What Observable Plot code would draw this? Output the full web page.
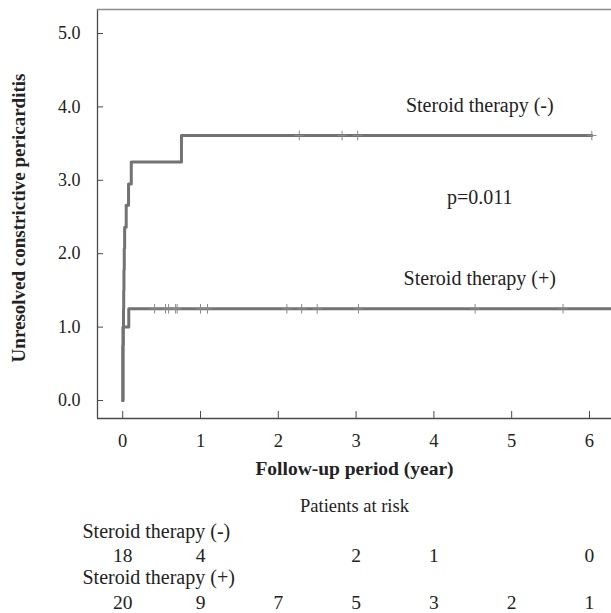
<!DOCTYPE html>
<html>
<head>
<meta charset="utf-8">
<script src="https://cdn.jsdelivr.net/npm/d3@7"></script>
<script src="https://cdn.jsdelivr.net/npm/@observablehq/plot@0.6"></script>
<style>
  html, body { margin: 0; padding: 0; background: #fff; }
</style>
</head>
<body>
<div id="chart"></div>
<script>
// ---- data ----
const xTicks = [0, 1, 2, 3, 4, 5, 6];
const yTicks = [0, 1, 2, 3, 4, 5];

// Steroid therapy (-): step curve
const noSteroidTime  = [0, 0.003, 0.006, 0.010, 0.013, 0.016, 0.020, 0.025, 0.045, 0.075, 0.110, 0.755, 6.03];
const noSteroidValue = [0, 0.75, 1.00, 1.25, 1.50, 1.78, 2.07, 2.36, 2.66, 2.95, 3.25, 3.61, 3.61];
const noSteroidCensor = [2.27, 2.82, 3.02, 6.03];

// Steroid therapy (+): step curve
const steroidTime  = [0, 0.003, 0.006, 0.078, 6.28];
const steroidValue = [0, 0.75, 1.00, 1.25, 1.25];
const steroidCensor = [0.41, 0.55, 0.59, 0.68, 0.70, 1.00, 1.09, 2.11, 2.30, 2.50, 3.03, 4.53, 5.66];

// annotations
const annoText = ["Steroid therapy (-)", "p=0.011", "Steroid therapy (+)"];
const annoX = [4.59, 4.59, 4.59];
const annoY = [4.02, 2.77, 1.66];

// patients at risk
const riskTimes = [0, 1, 2, 3, 4, 5, 6];
const riskNoSteroid = [18, 4, null, 2, 1, null, 0];
const riskSteroid = [20, 9, 7, 5, 3, 2, 1];
const groupNames = ["Steroid therapy (-)", "Steroid therapy (+)"];

// ---- build tables ----
const curveNo = noSteroidTime.map((t, i) => ({t, v: noSteroidValue[i]}));
const curveYes = steroidTime.map((t, i) => ({t, v: steroidValue[i]}));
const lastNo = noSteroidValue[noSteroidValue.length - 1];
const lastYes = steroidValue[steroidValue.length - 1];
const censorNo = noSteroidCensor.map(t => ({t, v: lastNo}));
const censorYes = steroidCensor.map(t => ({t, v: lastYes}));
const annos = annoText.map((s, i) => ({s, x: annoX[i], y: annoY[i]}));
const riskRowNo = riskTimes.map((t, i) => ({t, n: riskNoSteroid[i]})).filter(d => d.n != null);
const riskRowYes = riskTimes.map((t, i) => ({t, n: riskSteroid[i]})).filter(d => d.n != null);

const xDomain = [-0.324, 6.283];
const yDomain = [-0.245, 5.327];
const curveColor = "#727272";
const axisColor = "#4a4a4a";
const ink = "#222";
const fmtY = d3.format(".1f");

const chart = Plot.plot({
  width: 611,
  height: 613,
  marginTop: 9,
  marginLeft: 97,
  marginRight: 0,
  marginBottom: 195,
  style: {fontFamily: "'Liberation Serif', serif", fontSize: "18px", color: ink, background: "#fff"},
  x: {domain: xDomain},
  y: {domain: yDomain},
  marks: [
    // frame lines (left, bottom, top)
    Plot.ruleX([xDomain[0]], {stroke: axisColor, strokeWidth: 1.3}),
    Plot.ruleY([yDomain[0]], {stroke: axisColor, strokeWidth: 1.3}),
    Plot.ruleY([yDomain[1]], {stroke: "#8c8c8c", strokeWidth: 1.6}),
    // inward ticks
    Plot.axisX({ticks: xTicks, tickSize: -7, tickFormat: () => "", label: null, stroke: axisColor}),
    Plot.axisY({ticks: yTicks, tickSize: -6, tickFormat: () => "", label: null, stroke: axisColor}),
    // tick labels
    Plot.text(xTicks, {x: d => d, text: d => String(d), frameAnchor: "bottom", lineAnchor: "middle", dy: 23, fontSize: 18.5, fill: ink}),
    Plot.text(yTicks, {y: d => d, text: d => fmtY(d), frameAnchor: "left", textAnchor: "end", lineAnchor: "middle", dx: -17, fontSize: 18, fill: ink}),
    // curves
    Plot.line(curveNo, {x: "t", y: "v", curve: "step-after", stroke: curveColor, strokeWidth: 3}),
    Plot.line(curveYes, {x: "t", y: "v", curve: "step-after", stroke: curveColor, strokeWidth: 3}),
    Plot.dot(censorNo, {x: "t", y: "v", symbol: "plus", r: 3.2, stroke: "#8a8a8a", strokeWidth: 1}),
    Plot.dot(censorYes, {x: "t", y: "v", symbol: "plus", r: 3.2, stroke: "#8a8a8a", strokeWidth: 1}),
    // annotations
    Plot.text(annos, {x: "x", y: "y", text: "s", fontSize: 20, fill: ink}),
    // axis titles
    Plot.text(["Unresolved constrictive pericarditis"], {frameAnchor: "left", textAnchor: "middle", lineAnchor: "middle", dx: -79, dy: 4, rotate: -90, fontSize: 19, fontWeight: "bold", fill: ink}),
    Plot.text(["Follow-up period (year)"], {frameAnchor: "bottom", lineAnchor: "middle", dy: 50, fontSize: 19.5, fontWeight: "bold", fill: ink}),
    // patients at risk
    Plot.text(["Patients at risk"], {frameAnchor: "bottom", lineAnchor: "middle", dy: 88, fontSize: 18.5, fill: ink}),
    Plot.text([groupNames[0]], {frameAnchor: "bottom-left", textAnchor: "start", lineAnchor: "middle", dx: -15, dy: 113, fontSize: 20, fill: ink}),
    Plot.text(riskRowNo, {x: "t", text: "n", frameAnchor: "bottom", lineAnchor: "middle", dy: 137, fontSize: 19.5, fill: ink}),
    Plot.text([groupNames[1]], {frameAnchor: "bottom-left", textAnchor: "start", lineAnchor: "middle", dx: -15, dy: 159, fontSize: 20, fill: ink}),
    Plot.text(riskRowYes, {x: "t", text: "n", frameAnchor: "bottom", lineAnchor: "middle", dy: 184, fontSize: 19.5, fill: ink})
  ]
});
document.getElementById("chart").appendChild(chart);
</script>
</body>
</html>
